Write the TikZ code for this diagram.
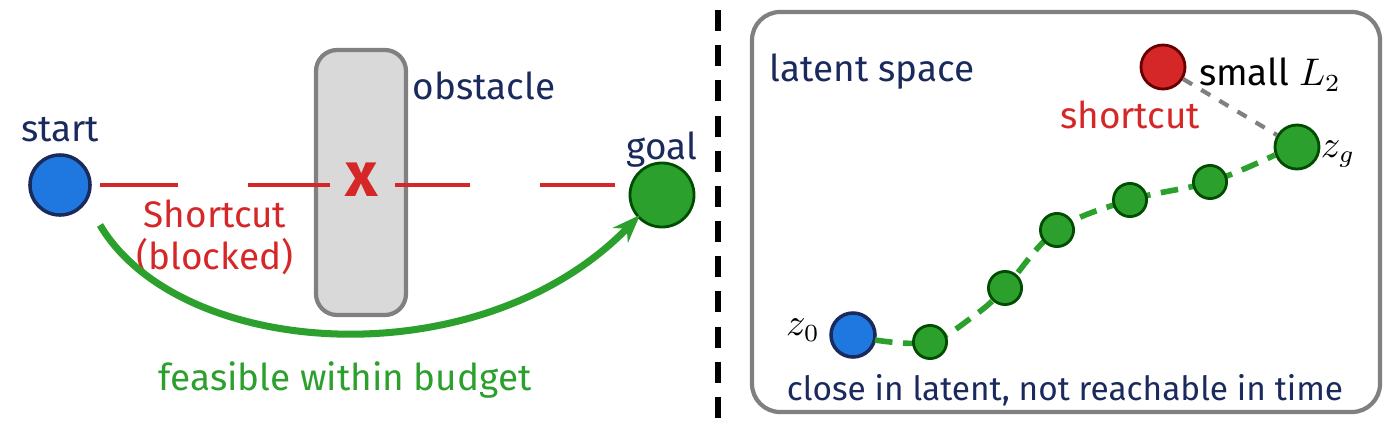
\documentclass[tikz,border=0pt]{standalone}
\usepackage{fontspec}
\setmainfont{Fira Sans}
\usetikzlibrary{arrows.meta}
\definecolor{navy}{HTML}{1B2A5C}
\definecolor{cblue}{HTML}{1F78E0}
\definecolor{cgreen}{HTML}{2CA02C}
\definecolor{cred}{HTML}{D62728}
\definecolor{cgray}{HTML}{808080}
\begin{document}
\begin{tikzpicture}[x=0.01cm,y=-0.01cm,
	txt/.style={font=\fontsize{10.5}{12}\selectfont},
	bluedot/.style={circle, draw=navy, line width=1pt, fill=cblue},
	greendot/.style={circle, draw=green!30!black, line width=0.8pt, fill=cgreen},
	reddot/.style={circle, draw=red!40!black, line width=0.8pt, fill=cred}]

	% ---- frame

	\useasboundingbox (0,0) rectangle (1400,430);

	% ---- left panel

	\node[bluedot, minimum size=0.6cm] (start) at (60,185) {};
	\node[txt, text=navy] (startlbl) at (60,130) {start};
	\node[greendot, minimum size=0.64cm] (goal) at (662,195) {};
	\node[txt, text=navy] (goallbl) at (662,150) {goal};

	\draw[cgray, fill=gray!30, line width=1.2pt, rounded corners=6pt] (316,50) rectangle (406,315);
	\node[txt, text=navy] (obslbl) at (484,86) {obstacle};

	\draw[cred, line width=1.2pt] (100,185) -- (178,185) (248,185) -- (330,185)
		(395,185) -- (470,185) (540,185) -- (615,185);
	\node[text=cred, font=\bfseries\fontsize{18}{18}\selectfont] (cross) at (362,180) {x};
	\node[txt, text=cred, align=center] (blocked) at (215,237) {Shortcut\\(blocked)};

	\coordinate (arrstart) at (100,225);
	\coordinate (arrend) at (640,215);
	\draw[cgreen, line width=2pt, -{Stealth[length=8pt]}] (arrstart)
		.. controls (180,360) and (480,380) .. (arrend);
	\node[txt, text=cgreen] (feas) at (345,380) {feasible within budget};

	% ---- separator

	\draw[line width=1.5pt, dash pattern=on 6pt off 4pt] (718,10) -- (718,422);

	% ---- right panel

	\draw[cgray, line width=1.2pt, rounded corners=8pt] (752,12) rectangle (1380,412);
	\node[txt, text=navy] (latlbl) at (872,72) {latent space};

	\node[reddot, minimum size=0.44cm] (sc) at (1163,67) {};
	\node[txt, text=cred] (sclbl) at (1130,115) {shortcut};
	\node[greendot, minimum size=0.44cm] (zg) at (1297,147) {};
	\node[txt] (zglbl) at (1338,154) {$z_g$};
	\draw[cgray, line width=1.2pt, dashed] (sc) -- (zg);
	\node[txt] (l2) at (1270,75) {small $L_2$};

	\node[bluedot, minimum size=0.44cm] (z0) at (853,335) {};
	\node[txt] (z0lbl) at (803,330) {$z_0$};

	\draw[cgreen, line width=1.6pt, dash pattern=on 5pt off 3pt] plot[smooth, tension=0.6] coordinates
		{(875,340) (930,342) (975,315) (1005,288) (1057,230) (1130,200) (1210,182) (1275,155)};
	\foreach \n/\x/\y in {1/930/342, 2/1005/288, 3/1057/230, 4/1130/200, 5/1210/182}
		\node[greendot, minimum size=0.28cm] (p\n) at (\x,\y) {};
	\node[text=navy, font=\fontsize{9.5}{11}\selectfont] (close) at (1065,390) {close in latent, not reachable in time};

\end{tikzpicture}
\end{document}
